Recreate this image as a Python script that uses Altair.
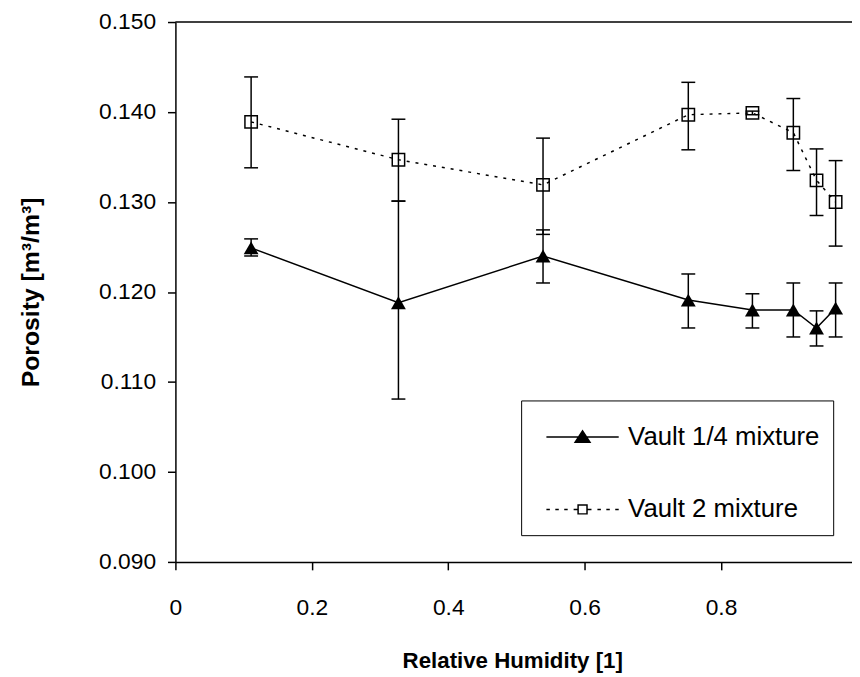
import altair as alt
import pandas as pd

# ---- data ----
rh = [0.111, 0.327, 0.539, 0.752, 0.846, 0.906, 0.940, 0.968]

v14 = [0.1249, 0.1188, 0.1240, 0.1191, 0.1180, 0.1180, 0.1160, 0.1182]
v14_lo = [0.1240, 0.1081, 0.1210, 0.1160, 0.1160, 0.1150, 0.1140, 0.1150]
v14_hi = [0.1259, 0.1301, 0.1269, 0.1220, 0.1198, 0.1210, 0.1179, 0.1210]

v2 = [0.1389, 0.1347, 0.1319, 0.1397, 0.1399, 0.1377, 0.1324, 0.1300]
v2_lo = [0.1338, 0.1301, 0.1264, 0.1358, 0.1397, 0.1335, 0.1285, 0.1251]
v2_hi = [0.1439, 0.1392, 0.1371, 0.1433, 0.1401, 0.1415, 0.1359, 0.1346]

series_names = ["Vault 1/4 mixture", "Vault 2 mixture"]
x_ticks = [0, 0.2, 0.4, 0.6, 0.8, 1.0]
y_ticks = [0.09, 0.10, 0.11, 0.12, 0.13, 0.14, 0.15]

FONT = "Liberation Sans"

d14 = pd.DataFrame({"rh": rh, "val": v14, "lo": v14_lo, "hi": v14_hi})
d2 = pd.DataFrame({"rh": rh, "val": v2, "lo": v2_lo, "hi": v2_hi})
caps = pd.concat([
    pd.DataFrame({"rh": rh, "val": v14_lo}), pd.DataFrame({"rh": rh, "val": v14_hi}),
    pd.DataFrame({"rh": rh, "val": v2_lo}), pd.DataFrame({"rh": rh, "val": v2_hi}),
])
legend_df = pd.DataFrame({"rh": [-0.5, -0.5], "val": [0.12, 0.12], "series": series_names})

xscale = alt.Scale(domain=[0, 1], range=[0, 688.5], nice=False, zero=False)
yscale = alt.Scale(domain=[0.09, 0.15], nice=False, zero=False)

xaxis = alt.Axis(values=x_ticks, format="~g", grid=False, tickSize=8, tickWidth=1.5,
                 tickColor="black", domainColor="black", domainWidth=1.5,
                 labelFont=FONT, labelFontSize=23, labelColor="black", labelPadding=27,
                 labelFlush=False, labelOverlap=False,
                 title="Relative Humidity [1]", titleFont=FONT, titleFontSize=22.5,
                 titleFontWeight="bold", titleColor="black", titleY=107, titleX=340,
                 titleBaseline="alphabetic")
yaxis = alt.Axis(values=y_ticks, format=".3f", grid=False, tickSize=8, tickWidth=1.5,
                 tickColor="black", domainColor="black", domainWidth=1.5,
                 labelFont=FONT, labelFontSize=23, labelColor="black", labelPadding=12,
                 labelFlush=False, labelOverlap=False,
                 title="Porosity [m³/m³]", titleFont=FONT, titleFontSize=25,
                 titleFontWeight="bold", titleColor="black", titleX=-138, titleY=272.5,
                 titleAngle=-90, titleBaseline="alphabetic", titleAlign="center")

X = alt.X("rh:Q", scale=xscale, axis=xaxis)
Y = alt.Y("val:Q", scale=yscale, axis=yaxis)

top_border = alt.Chart(pd.DataFrame({"rh": [0]})).mark_rule(color="black", strokeWidth=1.5).encode(
    x=alt.datum(0, scale=xscale), x2=alt.datum(1), y=alt.datum(0.15))

bars14 = alt.Chart(d14).mark_rule(color="black", strokeWidth=1.5).encode(
    x=X, y=alt.Y("lo:Q", scale=yscale, axis=yaxis), y2="hi:Q")
bars2 = alt.Chart(d2).mark_rule(color="black", strokeWidth=1.5).encode(
    x=X, y=alt.Y("lo:Q", scale=yscale, axis=yaxis), y2="hi:Q")
cap_marks = alt.Chart(caps).mark_tick(orient="horizontal", size=14, thickness=1.5,
                                       color="black", opacity=1).encode(x=X, y=Y)

line14 = alt.Chart(d14).mark_line(color="black", strokeWidth=1.5).encode(x=X, y=Y)
line2 = alt.Chart(d2).mark_line(color="black", strokeWidth=1.5, strokeDash=[3, 6]).encode(x=X, y=Y)

pts14 = alt.Chart(d14).mark_point(shape="triangle-up", filled=True, size=225,
                                  color="black", opacity=1).encode(x=X, y=Y)
pts2 = alt.Chart(d2).mark_point(shape="square", filled=False, size=156, color="black",
                                strokeWidth=1.5, opacity=1).encode(x=X, y=Y)

# legend symbols: custom paths (line + marker), written in pixels and scaled to symbol units
LEG_SIZE = 2116
S = (LEG_SIZE ** 0.5) / 2.0


def u(v):
    return f"{v / S:.4f}"


path14 = (f"M{u(-36.5)},0H{u(36.5)}"
          f"M{u(-7.5)},{u(5.3)}L{u(7.5)},{u(5.3)}L0,{u(-6.2)}Z")
dash_px = [(-36.5, -33), (-27.5, -24), (-18.5, -15), (-9, -4.5),
           (4.5, 9), (15, 18.5), (24, 27.5), (33, 36.5)]
path2 = "".join(f"M{u(a)},0H{u(b)}" for a, b in dash_px)
path2 += f"M{u(-4.5)},{u(-4.5)}H{u(4.5)}V{u(4.5)}H{u(-4.5)}Z"

leg = alt.Legend(orient="none", legendX=349, legendY=382, title=None,
                 strokeColor="black", fillColor="white", padding=13,
                 symbolSize=LEG_SIZE, symbolStrokeWidth=1.5,
                 symbolOffset=25, labelOffset=22, rowPadding=36,
                 labelFont=FONT, labelFontSize=26, labelColor="black",
                 labelLimit=400)

legend_layer = alt.Chart(legend_df).mark_point(clip=True, size=LEG_SIZE, opacity=1,
                                              strokeWidth=1.5, filled=True).encode(
    x=X, y=Y,
    shape=alt.Shape("series:N", scale=alt.Scale(domain=series_names, range=[path14, path2]),
                    legend=leg),
    fill=alt.Fill("series:N", scale=alt.Scale(domain=series_names, range=["black", "white"]),
                  legend=leg),
    stroke=alt.Stroke("series:N", scale=alt.Scale(domain=series_names, range=["black", "black"]),
                      legend=leg),
)

chart = alt.layer(
    top_border, line14, line2, bars14, bars2, cap_marks, pts14, pts2, legend_layer
).properties(
    width=683, height=545,
    autosize=alt.AutoSizeParams(type="none"),
    padding={"left": 169, "top": 11, "right": 0, "bottom": 113},
    background="white",
).configure_view(stroke=None)

chart.save("out.html", embed_options={"renderer": "svg", "actions": False})
